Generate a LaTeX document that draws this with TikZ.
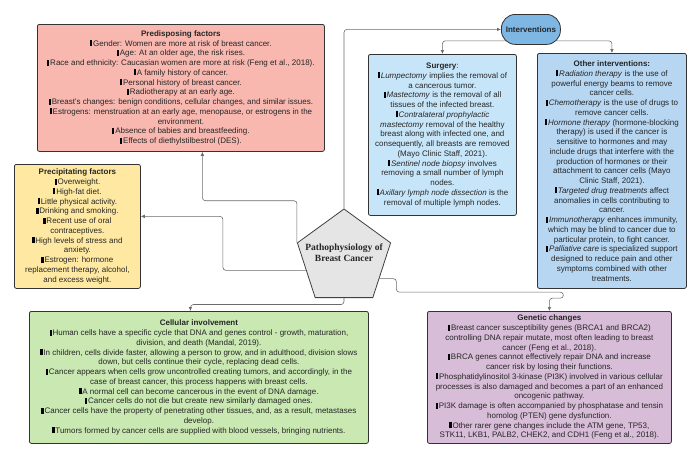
\documentclass[tikz,border=0pt]{standalone}
\usepackage{fontspec}
\setmainfont{Liberation Sans}
\newfontfamily\pentafont{Liberation Serif}
\usepackage{tikz}
\usetikzlibrary{shapes, arrows.meta, positioning, calc}
\definecolor{predispcol}{HTML}{F8B8B0}
\definecolor{precipcol}{HTML}{FFE9A2}
\definecolor{surgcol}{HTML}{C7E5F8}
\definecolor{othercol}{HTML}{B6D6F1}
\definecolor{intervcol}{HTML}{7EB6E4}
\definecolor{cellcol}{HTML}{C9E8B2}
\definecolor{genecol}{HTML}{D8BDD8}
\definecolor{pentcol}{HTML}{E5E5E5}
\definecolor{linecol}{HTML}{6A6A6A}
\tikzstyle{box}=[draw=black!80, line width=0.8pt, rounded corners=2pt, anchor=north west, align=center, inner sep=2pt, text=black!85, font=\fontsize{8}{9.75}\selectfont]
\tikzstyle{conn}=[draw=linecol, line width=0.6pt, rounded corners=3pt, ->]
\newcommand{\bul}{{\color{black}\rule{2.3pt}{6pt}}\hspace{0.8pt}}

\begin{document}
\begin{tikzpicture}[>={Latex[length=4pt,width=3.6pt]}, x=1pt, y=-1pt]
    \useasboundingbox (0,0) rectangle (700,458);
    \node[box, fill=predispcol, minimum width=287pt, minimum height=127pt] (predisp) at (37,24) {\textbf{Predisposing factors}\\
        \bul Gender: Women are more at risk of breast cancer.\\
        \bul Age: At an older age, the risk rises.\\
        \bul Race and ethnicity: Caucasian women are more at risk (Feng et al., 2018).\\
        \bul A family history of cancer.\\
        \bul Personal history of breast cancer.\\
        \bul Radiotherapy at an early age.\\
        \bul Breast's changes: benign conditions, cellular changes, and similar issues.\\
        \bul Estrogens: menstruation at an early age, menopause, or estrogens in the\\
        environment.\\
        \bul Absence of babies and breastfeeding.\\
        \bul Effects of diethylstilbestrol (DES).};
    \node[box, fill=precipcol, minimum width=126pt, minimum height=124pt] (precip) at (14,164) {\textbf{Precipitating factors}\\
        \bul Overweight.\\
        \bul High-fat diet.\\
        \bul Little physical activity.\\
        \bul Drinking and smoking.\\
        \bul Recent use of oral\\
        contraceptives.\\
        \bul High levels of stress and\\
        anxiety.\\
        \bul Estrogen: hormone\\
        replacement therapy, alcohol,\\
        and excess weight.};
    \node[box, fill=intervcol, rounded corners=14pt, minimum width=59pt, minimum height=30pt] (interv) at (501,14) {\textbf{Interventions}};
    \node[box, fill=surgcol, minimum width=148pt, minimum height=161pt] (surgery) at (368,54) {\textbf{Surgery}:\\
        \bul\textit{Lumpectomy} implies the removal of\\
        a cancerous tumor.\\
        \bul\textit{Mastectomy} is the removal of all\\
        tissues of the infected breast.\\
        \bul\textit{Contralateral prophylactic}\\
        \textit{mastectomy} removal of the healthy\\
        breast along with infected one, and\\
        consequently, all breasts are removed\\
        (Mayo Clinic Staff, 2021).\\
        \bul\textit{Sentinel node biopsy} involves\\
        removing a small number of lymph\\
        nodes.\\
        \bul\textit{Axillary lymph node dissection} is the\\
        removal of multiple lymph nodes.};
    \node[box, fill=othercol, minimum width=149pt, minimum height=235pt] (other) at (537,53) {\textbf{Other interventions:}\\
        \bul\textit{Radiation therapy} is the use of\\
        powerful energy beams to remove\\
        cancer cells.\\
        \bul\textit{Chemotherapy} is the use of drugs to\\
        remove cancer cells.\\
        \bul\textit{Hormone therapy} (hormone-blocking\\
        therapy) is used if the cancer is\\
        sensitive to hormones and may\\
        include drugs that interfere with the\\
        production of hormones or their\\
        attachment to cancer cells (Mayo\\
        Clinic Staff, 2021).\\
        \bul\textit{Targeted drug treatments} affect\\
        anomalies in cells contributing to\\
        cancer.\\
        \bul\textit{Immunotherapy} enhances immunity,\\
        which may be blind to cancer due to\\
        particular protein, to fight cancer.\\
        \bul\textit{Palliative care} is specialized support\\
        designed to reduce pain and other\\
        symptoms combined with other\\
        treatments.};
    \node[box, fill=cellcol, minimum width=339pt, minimum height=132pt] (cell) at (29,311) {\textbf{Cellular involvement}\\
        \bul Human cells have a specific cycle that DNA and genes control - growth, maturation,\\
        division, and death (Mandal, 2019).\\
        \bul In children, cells divide faster, allowing a person to grow, and in adulthood, division slows\\
        down, but cells continue their cycle, replacing dead cells.\\
        \bul Cancer appears when cells grow uncontrolled creating tumors, and accordingly, in the\\
        case of breast cancer, this process happens with breast cells.\\
        \bul A normal cell can become cancerous in the event of DNA damage.\\
        \bul Cancer cells do not die but create new similarly damaged ones.\\
        \bul Cancer cells have the property of penetrating other tissues, and, as a result, metastases\\
        develop.\\
        \bul Tumors formed by cancer cells are supplied with blood vessels, bringing nutrients.};
    \node[box, fill=genecol, minimum width=244pt, minimum height=132pt] (genetic) at (427,311) {\textbf{Genetic changes}\\
        \bul Breast cancer susceptibility genes (BRCA1 and BRCA2)\\
        controlling DNA repair mutate, most often leading to breast\\
        cancer (Feng et al., 2018).\\
        \bul BRCA genes cannot effectively repair DNA and increase\\
        cancer risk by losing their functions.\\
        \bul Phosphatidylinositol 3-kinase (PI3K) involved in various cellular\\
        processes is also damaged and becomes a part of an enhanced\\
        oncogenic pathway.\\
        \bul PI3K damage is often accompanied by phosphatase and tensin\\
        homolog (PTEN) gene dysfunction.\\
        \bul Other rarer gene changes include the ATM gene, TP53,\\
        STK11, LKB1, PALB2, CHEK2, and CDH1 (Feng et al., 2018).};
    \node[draw=black!75, fill=pentcol, line width=0.8pt, regular polygon, regular polygon sides=5, minimum size=98pt, inner sep=0pt,
        label={[align=center, font=\pentafont\bfseries\fontsize{9.5}{11}\selectfont, text=black!85, yshift=5pt]center:Pathophysiology of\\Breast Cancer}] (patho) at (344,258) {};
    \draw[conn] (patho.corner 1) |- (interv.west);
    \draw[conn] ([xshift=5pt,yshift=4pt]interv.south west) -| (surgery.north);
    \draw[conn] ([xshift=-5pt,yshift=4pt]interv.south east) -| (other.north);
    \draw[conn] (patho.corner 2) -- ++(0,-42) -| ([xshift=21.5pt]predisp.south);
    \draw[conn] (patho.side 2) -- ++(-83,0) |- ([yshift=10pt]precip.east);
    \draw[conn] (patho.side 3) -- ++(0,6.5) -| ([xshift=-8.5pt]cell.north);
    \draw[conn] ($(patho.corner 4)!0.35!(patho.corner 5)$) -- ++(17,0) -- ++(0,13.5) -- ++(167,0) -- ++(0,6) -| (genetic.north);
\end{tikzpicture}
\end{document}
